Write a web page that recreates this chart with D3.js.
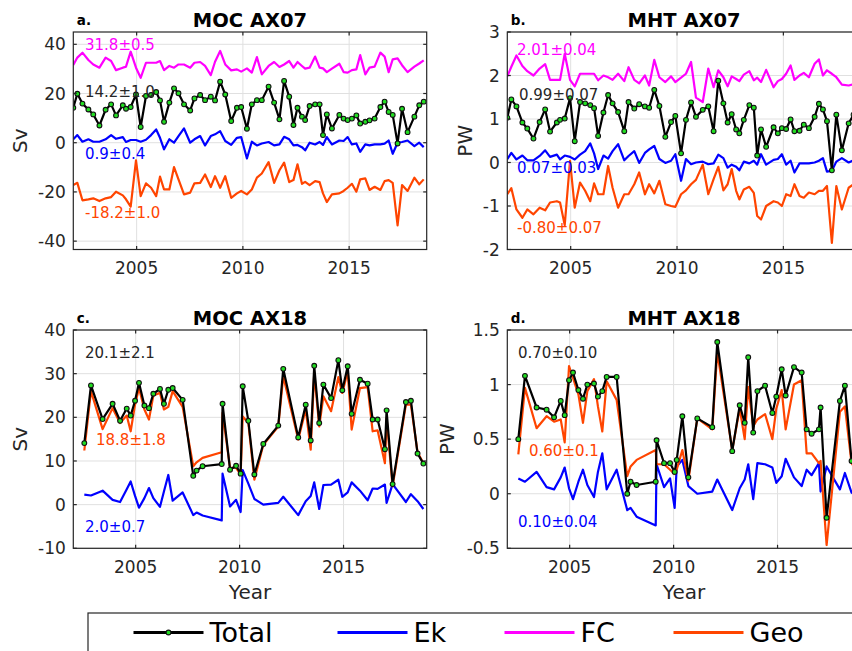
<!DOCTYPE html>
<html>
<head>
<meta charset="utf-8">
<script src="https://cdn.jsdelivr.net/npm/d3@7"></script>
<style>
  html, body { margin: 0; padding: 0; background: #fff; }
  svg { display: block; font-family: "DejaVu Sans", sans-serif; }
</style>
</head>
<body>
<script>
// ---------- AX07 transect (quarterly sampling) ----------
const yearsAX07 = [
  2002.02, 2002.21, 2002.45, 2002.73, 2002.96, 2003.25, 2003.54, 2003.80, 2004.03, 2004.35,
  2004.50, 2004.72, 2004.97, 2005.19, 2005.44, 2005.68, 2005.92, 2006.10, 2006.29, 2006.54,
  2006.76, 2006.97, 2007.23, 2007.52, 2007.72, 2007.99, 2008.22, 2008.49, 2008.69, 2008.93,
  2009.17, 2009.45, 2009.72, 2009.92, 2010.19, 2010.42, 2010.66, 2010.89, 2011.21, 2011.47,
  2011.72, 2011.94, 2012.18, 2012.38, 2012.57, 2012.78, 2012.93, 2013.14, 2013.40, 2013.61,
  2013.77, 2013.95, 2014.19, 2014.54, 2014.74, 2014.93, 2015.13, 2015.34, 2015.52, 2015.76,
  2015.96, 2016.20, 2016.47, 2016.67, 2016.86, 2017.05, 2017.28, 2017.49, 2017.75, 2018.07,
  2018.30, 2018.51
];
const mocAX07Total = [
  14.2, 19.9, 15.9, 13.5, 11.5, 7.0, 13.4, 15.6, 11.1, 15.2,
  13.8, 14.5, 19.6, 6.4, 19.0, 19.4, 20.6, 17.2, 8.5, 16.3,
  22.1, 20.1, 15.6, 13.1, 18.0, 19.4, 17.3, 18.7, 17.2, 24.8,
  19.6, 8.8, 14.2, 14.5, 5.7, 15.6, 17.3, 17.3, 22.8, 16.3,
  9.5, 25.1, 18.7, 7.2, 14.2, 10.6, 9.2, 14.9, 15.6, 15.6,
  3.1, 11.5, 5.8, 11.3, 9.8, 9.2, 9.8, 11.1, 7.8, 8.5,
  9.1, 9.8, 14.5, 16.7, 12.5, 11.3, -0.3, 13.8, 4.3, 10.6,
  15.2, 16.7
];
const mocAX07Ek = [
  1.4, 3.1, 0.4, 1.4, 0.4, 0.4, 1.4, 3.1, 1.6, 2.3,
  0.3, 1.1, 1.1, 0.4, 1.2, 3.1, 5.4, 2.0, -2.7, 1.4,
  0.0, 2.7, 5.8, 0.0, 1.4, 2.7, -1.1, 2.7, 3.4, 4.7,
  0.7, -0.9, 2.0, 2.3, -6.4, 0.4, -1.1, -0.3, 0.3, -1.1,
  -0.7, 2.4, 1.4, -1.1, -0.9, -1.8, -3.1, 0.0, -0.7, 0.3,
  -0.9, 2.3, -0.7, 0.9, 0.7, 2.3, -0.7, -0.3, -3.7, -0.7,
  -1.1, -0.7, -0.7, -0.4, 0.9, -4.5, 0.0, 0.3, 0.9, -1.4,
  0.0, -1.8
];
const mocAX07FC = [
  31.6, 34.6, 36.6, 33.6, 31.8, 30.5, 34.6, 33.2, 29.5, 30.5,
  30.9, 37.0, 30.5, 26.4, 32.5, 32.5, 32.5, 33.2, 29.5, 31.2,
  30.5, 31.8, 31.8, 30.5, 32.5, 32.8, 31.2, 27.5, 32.9, 37.3,
  31.8, 29.4, 29.8, 28.9, 30.2, 28.5, 34.8, 27.8, 31.2, 32.8,
  30.8, 31.8, 33.2, 30.5, 32.8, 31.2, 30.1, 30.5, 35.0, 30.5,
  30.2, 28.7, 30.1, 32.1, 28.7, 28.5, 29.5, 29.8, 35.6, 27.8,
  30.5, 30.9, 36.6, 35.0, 28.7, 33.9, 34.3, 31.5, 28.7, 30.9,
  32.2, 33.5
];
const mocAX07Geo = [
  -17.2, -16.3, -23.4, -23.0, -22.6, -23.7, -22.6, -22.1, -19.9, -21.4,
  -23.0, -26.0, -7.2, -21.7, -16.5, -18.3, -21.7, -13.8, -19.0, -19.0,
  -9.9, -14.9, -21.0, -20.3, -16.5, -16.3, -12.9, -18.0, -13.6, -18.3,
  -13.6, -22.4, -20.6, -19.6, -21.0, -19.0, -14.2, -12.5, -7.9, -16.3,
  -11.2, -8.1, -16.0, -15.2, -8.8, -16.7, -15.9, -17.2, -15.6, -16.0,
  -20.6, -24.1, -21.0, -20.6, -19.6, -18.3, -16.7, -19.9, -14.9, -14.5,
  -19.2, -17.9, -19.2, -15.6, -15.2, -16.3, -33.6, -17.2, -19.6, -14.2,
  -16.9, -14.9
];
const mhtAX07Total = [
  1.03, 1.45, 1.29, 0.92, 0.78, 0.55, 0.93, 1.22, 0.71, 0.92,
  0.98, 1.01, 1.48, 0.49, 1.39, 1.36, 1.32, 1.25, 0.61, 1.15,
  1.55, 1.36, 1.16, 0.72, 1.39, 1.24, 1.34, 1.29, 1.26, 1.67,
  1.30, 0.59, 0.93, 1.07, 0.21, 0.98, 1.38, 1.05, 1.21, 1.29,
  0.72, 1.88, 1.36, 0.92, 1.11, 0.76, 0.67, 0.98, 1.32, 1.26,
  0.16, 0.76, 0.36, 0.81, 0.67, 0.79, 0.77, 0.99, 0.72, 0.73,
  0.87, 0.79, 1.05, 1.35, 1.22, 0.95, -0.18, 1.10, 0.28, 0.90,
  1.10, 1.20
];
const mhtAX07Ek = [
  0.08, 0.22, 0.07, 0.16, 0.05, 0.05, 0.15, 0.28, 0.13, 0.18,
  0.07, 0.16, 0.13, 0.07, 0.18, 0.26, 0.44, 0.21, -0.15, 0.16,
  0.09, 0.26, 0.42, 0.05, 0.15, 0.26, -0.01, 0.22, 0.30, 0.38,
  0.08, -0.01, 0.04, 0.19, -0.42, 0.08, -0.04, 0.00, 0.02, -0.04,
  -0.02, 0.18, 0.10, -0.12, -0.05, -0.10, -0.18, 0.02, -0.02, 0.04,
  -0.05, 0.19, -0.05, 0.06, 0.08, 0.19, -0.05, 0.04, -0.23, -0.02,
  -0.02, -0.02, 0.00, 0.04, 0.10, -0.21, -0.19, 0.02, 0.10, 0.00,
  0.05, -0.05
];
const mhtAX07FC = [
  1.98, 2.20, 2.46, 2.22, 2.10, 2.00, 2.16, 2.26, 1.90, 1.90,
  1.90, 2.50, 1.90, 1.75, 2.04, 2.04, 2.04, 2.04, 1.89, 2.00,
  1.96, 1.90, 2.04, 1.87, 2.19, 1.90, 1.82, 2.00, 1.77, 2.36,
  1.96, 1.85, 1.98, 1.85, 1.95, 2.04, 2.31, 1.49, 1.39, 2.16,
  1.73, 2.12, 1.96, 1.75, 1.98, 1.92, 1.87, 2.02, 2.10, 1.89,
  1.95, 1.85, 2.13, 1.73, 1.87, 1.92, 2.04, 2.23, 1.90, 2.00,
  2.06, 1.96, 2.27, 2.37, 2.00, 2.12, 2.04, 1.96, 1.79, 1.77,
  1.80, 1.85
];
const mhtAX07Geo = [
  -0.73, -0.59, -1.08, -1.27, -1.08, -1.19, -1.04, -1.10, -0.92, -0.89,
  -0.92, -1.44, 0.04, -1.04, -0.46, -0.65, -0.89, -0.48, -0.73, -0.73,
  -0.08, -0.58, -1.04, -0.73, -0.73, -0.50, -0.23, -0.73, -0.50, -0.71,
  -0.42, -0.96, -1.00, -1.02, -0.73, -0.64, -0.50, -0.40, -0.05, -0.73,
  -0.38, -0.10, -0.64, -0.50, -0.15, -0.65, -0.85, -0.62, -0.56, -0.70,
  -1.23, -1.31, -1.00, -0.89, -0.92, -1.00, -0.73, -0.77, -0.50, -0.77,
  -0.81, -0.69, -0.73, -0.65, -0.65, -0.54, -1.85, -0.54, -1.08, -0.58,
  -0.50, -0.60
];

// ---------- AX18 transect (irregular sampling) ----------
const yearsAX18 = [
  2002.53, 2002.85, 2003.41, 2003.89, 2004.25, 2004.57, 2004.76, 2004.97, 2005.16, 2005.42,
  2005.64, 2005.85, 2006.17, 2006.36, 2006.57, 2006.78, 2007.26, 2007.77, 2007.93, 2008.22,
  2009.14, 2009.18, 2009.54, 2009.83, 2010.05, 2010.15, 2010.42, 2010.71, 2011.14, 2011.86,
  2012.10, 2012.82, 2013.18, 2013.42, 2013.59, 2013.83, 2014.03, 2014.40, 2014.75, 2014.94,
  2015.20, 2015.39, 2015.79, 2016.16, 2016.40, 2016.64, 2016.99, 2017.07, 2017.36, 2018.00,
  2018.24, 2018.56, 2018.84
];
const mocAX18Total = [
  14.1, 27.3, 19.6, 23.1, 19.2, 22.0, 20.4, 23.8, 27.9, 22.7,
  22.1, 25.4, 26.5, 23.1, 26.3, 26.7, 24.0, 6.6, 7.8, 8.8,
  9.3, 23.1, 8.0, 8.9, 7.1, 27.1, 19.2, 6.9, 13.9, 18.1,
  31.1, 15.4, 22.9, 14.7, 31.8, 18.7, 27.5, 24.4, 33.1, 26.2,
  31.7, 20.8, 28.6, 27.7, 19.5, 19.5, 12.7, 21.6, 4.7, 23.5,
  23.8, 11.7, 9.4
];
const mocAX18Ek = [
  2.3, 2.1, 3.2, 1.1, 0.6, 3.5, 5.3, 2.0, -0.7, 1.5,
  3.8, 1.5, -0.5, 3.0, 6.8, 0.9, 2.8, -2.4, -1.8, -2.5,
  -3.6, 7.1, -0.4, 1.1, -1.7, 7.9, 4.8, 1.3, 0.0, 0.4,
  1.8, -2.4, 0.8, 2.0, 5.1, -1.0, 4.5, 4.6, 5.7, 1.8,
  2.8, 5.1, 3.2, 1.0, 3.7, 3.6, 4.6, 0.4, 4.7, 0.6,
  2.4, 0.8, -1.0
];
const mocAX18Geo = [
  12.4, 26.0, 17.3, 22.1, 18.7, 20.4, 16.8, 22.9, 26.7, 21.8,
  19.5, 25.0, 25.6, 21.8, 22.4, 26.0, 22.4, 8.8, 9.7, 10.7,
  12.0, 21.0, 8.4, 8.4, 6.9, 20.2, 18.7, 5.7, 13.7, 17.9,
  29.4, 14.9, 21.8, 12.6, 30.2, 17.9, 24.8, 21.4, 29.2, 25.6,
  30.5, 17.2, 26.7, 26.9, 16.8, 17.0, 9.5, 19.8, 4.2, 22.9,
  22.9, 12.0, 9.5
];
const mhtAX18Total = [
  0.50, 1.08, 0.79, 0.77, 0.70, 0.85, 0.72, 1.04, 1.11, 0.95,
  0.87, 1.00, 1.01, 0.89, 0.94, 1.07, 1.07, 0.00, 0.11, 0.08,
  0.11, 0.49, 0.28, 0.28, 0.20, 0.31, 0.71, 0.15, 0.69, 0.61,
  1.39, 0.39, 0.81, 0.65, 1.25, 0.56, 0.94, 0.99, 0.74, 0.89,
  1.14, 0.90, 1.16, 1.11, 0.59, 0.55, 0.59, 0.79, -0.22, 0.85,
  0.99, 0.30, 0.25
];
const mhtAX18Ek = [
  0.14, 0.11, 0.20, 0.06, 0.04, 0.15, 0.24, 0.05, -0.05, 0.11,
  0.22, 0.08, -0.03, 0.20, 0.37, 0.04, 0.22, -0.15, -0.13, -0.21,
  -0.29, 0.27, 0.06, 0.14, -0.13, 0.25, 0.31, 0.07, 0.00, 0.02,
  0.13, -0.15, 0.05, 0.13, 0.27, -0.05, 0.28, 0.27, 0.24, 0.10,
  0.16, 0.32, 0.15, 0.07, 0.22, 0.17, 0.28, 0.02, 0.25, 0.04,
  0.19, 0.01, -0.02
];
const mhtAX18Geo = [
  0.36, 0.97, 0.60, 0.71, 0.66, 0.68, 0.47, 1.17, 1.06, 0.91,
  0.65, 0.94, 1.05, 0.80, 0.57, 1.03, 0.86, 0.16, 0.25, 0.31,
  0.40, 0.27, 0.27, 0.22, 0.18, 0.22, 0.40, 0.12, 0.69, 0.59,
  1.30, 0.40, 0.78, 0.50, 0.98, 0.62, 0.68, 0.73, 0.50, 0.78,
  0.95, 0.59, 1.00, 1.04, 0.37, 0.37, 0.28, 0.30, -0.47, 0.75,
  0.80, 0.28, 0.20
];

// ---------- ticks, labels, legend ----------
const yearTicks = [2005, 2010, 2015];
const yTicksMocAX07 = [-40, -20, 0, 20, 40];
const yTicksMhtAX07 = [-2, -1, 0, 1, 2, 3];
const yTicksMocAX18 = [-10, 0, 10, 20, 30, 40];
const yTicksMhtAX18 = [-0.5, 0, 0.5, 1, 1.5];
const seriesNames = ["Total", "Ek", "FC", "Geo"];
const statsMocAX07 = ["14.2±1.0", "0.9±0.4", "31.8±0.5", "-18.2±1.0"];
const statsMhtAX07 = ["0.99±0.07", "0.07±0.03", "2.01±0.04", "-0.80±0.07"];
const statsMocAX18 = ["20.1±2.1", "2.0±0.7", null, "18.8±1.8"];
const statsMhtAX18 = ["0.70±0.10", "0.10±0.04", null, "0.60±0.1"];

const colors = { Total: "#000000", Ek: "#0000ff", FC: "#ff00ff", Geo: "#ff4500" };
const axisGray = "#262626";

const W = 852, H = 651;
const svg = d3.select("body").append("svg")
  .attr("width", W).attr("height", H)
  .attr("viewBox", `0 0 ${W} ${H}`);
svg.append("rect").attr("width", W).attr("height", H).attr("fill", "#fff");

// Panel layout: box in pixels, plus placement of the stats annotations (relative to box)
const panels = [
  { tag: "a.", title: "MOC AX07", yLabel: "Sv", yLabelX: 20,
    left: 73.3, top: 32, width: 353.4, height: 217.5,
    xDomain: [2002.02, 2018.65], yDomain: [-43.4, 45], yTicks: yTicksMocAX07,
    years: yearsAX07,
    values: { Total: mocAX07Total, Ek: mocAX07Ek, FC: mocAX07FC, Geo: mocAX07Geo },
    stats: statsMocAX07,
    statPos: { Total: [11.7, 65], Ek: [11.7, 127], FC: [11.7, 18], Geo: [11.7, 186] },
    xLabel: false },
  { tag: "b.", title: "MHT AX07", yLabel: "PW", yLabelX: 465,
    left: 507.3, top: 32, width: 353.7, height: 217.5,
    xDomain: [2002.02, 2018.65], yDomain: [-2, 3], yTicks: yTicksMhtAX07,
    years: yearsAX07,
    values: { Total: mhtAX07Total, Ek: mhtAX07Ek, FC: mhtAX07FC, Geo: mhtAX07Geo },
    stats: statsMhtAX07,
    statPos: { Total: [11.7, 68], Ek: [9.7, 141], FC: [9.7, 23], Geo: [9.7, 201] },
    xLabel: false },
  { tag: "c.", title: "MOC AX18", yLabel: "Sv", yLabelX: 20,
    left: 73.3, top: 330, width: 353.4, height: 218.3,
    xDomain: [2002, 2019], yDomain: [-10, 40], yTicks: yTicksMocAX18,
    years: yearsAX18,
    values: { Total: mocAX18Total, Ek: mocAX18Ek, Geo: mocAX18Geo },
    stats: statsMocAX18,
    statPos: { Total: [11.7, 28], Ek: [11.7, 202], Geo: [22.7, 115] },
    xLabel: true },
  { tag: "d.", title: "MHT AX18", yLabel: "PW", yLabelX: 447,
    left: 507.3, top: 330, width: 353.4, height: 218.3,
    xDomain: [2002, 2019], yDomain: [-0.5, 1.5], yTicks: yTicksMhtAX18,
    years: yearsAX18,
    values: { Total: mhtAX18Total, Ek: mhtAX18Ek, Geo: mhtAX18Geo },
    stats: statsMhtAX18,
    statPos: { Total: [10.7, 28], Ek: [10.7, 197], Geo: [21.7, 126] },
    xLabel: true }
];

const defs = svg.append("defs");

panels.forEach((p, i) => {
  const x = d3.scaleLinear().domain(p.xDomain).range([p.left, p.left + p.width]);
  const y = d3.scaleLinear().domain(p.yDomain).range([p.top + p.height, p.top]);
  const g = svg.append("g");
  const clipId = "clip" + i;
  defs.append("clipPath").attr("id", clipId)
    .append("rect").attr("x", p.left).attr("y", p.top)
    .attr("width", p.width).attr("height", p.height);

  // background grid
  const grid = g.append("g").attr("stroke", "#e0e0e0").attr("stroke-width", 1);
  grid.selectAll("line.gx").data(yearTicks).join("line")
    .attr("x1", d => x(d)).attr("x2", d => x(d))
    .attr("y1", p.top).attr("y2", p.top + p.height);
  grid.selectAll("line.gy").data(p.yTicks).join("line")
    .attr("y1", d => y(d)).attr("y2", d => y(d))
    .attr("x1", p.left).attr("x2", p.left + p.width);

  // series lines
  const plot = g.append("g").attr("clip-path", `url(#${clipId})`);
  const line = d3.line().x(d => x(d[0])).y(d => y(d[1]));
  ["Ek", "FC", "Geo", "Total"].forEach(name => {
    const vals = p.values[name];
    if (!vals) return;
    const pts = p.years.map((yr, k) => [yr, vals[k]]);
    plot.append("path").datum(pts)
      .attr("d", line)
      .attr("fill", "none")
      .attr("stroke", colors[name])
      .attr("stroke-width", 2.2)
      .attr("stroke-linejoin", "round");
    if (name === "Total") {
      plot.selectAll("circle.tot").data(pts).join("circle")
        .attr("cx", d => x(d[0])).attr("cy", d => y(d[1]))
        .attr("r", 2.4)
        .attr("fill", "#22dd22")
        .attr("stroke", "#111")
        .attr("stroke-width", 1.1);
    }
  });

  // stats annotations
  seriesNames.forEach((name, k) => {
    const txt = p.stats[k];
    if (!txt) return;
    const pos = p.statPos[name];
    g.append("text")
      .attr("x", p.left + pos[0]).attr("y", p.top + pos[1])
      .attr("font-size", 15)
      .attr("fill", name === "Total" ? "#262626" : colors[name])
      .text(txt);
  });

  // axes box with inward ticks on all sides
  const ax = g.append("g").attr("stroke", axisGray).attr("stroke-width", 1.2);
  ax.append("rect").attr("x", p.left).attr("y", p.top)
    .attr("width", p.width).attr("height", p.height).attr("fill", "none");
  const tl = 3.5;
  yearTicks.forEach(t => {
    ax.append("line").attr("x1", x(t)).attr("x2", x(t))
      .attr("y1", p.top + p.height).attr("y2", p.top + p.height - tl);
    ax.append("line").attr("x1", x(t)).attr("x2", x(t))
      .attr("y1", p.top).attr("y2", p.top + tl);
  });
  p.yTicks.forEach(t => {
    ax.append("line").attr("y1", y(t)).attr("y2", y(t))
      .attr("x1", p.left).attr("x2", p.left + tl);
    ax.append("line").attr("y1", y(t)).attr("y2", y(t))
      .attr("x1", p.left + p.width).attr("x2", p.left + p.width - tl);
  });

  // tick labels
  g.selectAll("text.xt").data(yearTicks).join("text")
    .attr("x", d => x(d)).attr("y", p.top + p.height + 24.5)
    .attr("text-anchor", "middle").attr("font-size", 17).attr("fill", axisGray)
    .text(d => d);
  g.selectAll("text.yt").data(p.yTicks).join("text")
    .attr("x", p.left - 7.5).attr("y", d => y(d)).attr("dy", "0.36em")
    .attr("text-anchor", "end").attr("font-size", 17).attr("fill", axisGray)
    .text(d => String(d));

  // titles and labels
  g.append("text").attr("x", p.left + p.width / 2).attr("y", p.top - 5.5)
    .attr("text-anchor", "middle").attr("font-size", 19.5).attr("font-weight", "bold")
    .attr("fill", "#000").text(p.title);
  g.append("text").attr("x", p.left + 3.5).attr("y", p.top - 7.5)
    .attr("font-size", 13.5).attr("font-weight", "bold")
    .attr("fill", "#000").text(p.tag);
  const cy = p.top + p.height / 2;
  g.append("text")
    .attr("transform", `translate(${p.yLabelX},${cy}) rotate(-90)`)
    .attr("text-anchor", "middle").attr("dy", "0.36em")
    .attr("font-size", 20).attr("fill", axisGray).text(p.yLabel);
  if (p.xLabel) {
    g.append("text").attr("x", p.left + p.width / 2).attr("y", p.top + p.height + 51)
      .attr("text-anchor", "middle").attr("font-size", 20).attr("fill", axisGray)
      .text("Year");
  }
});

// ---------- legend ----------
const leg = svg.append("g");
leg.append("rect").attr("x", 88).attr("y", 613).attr("width", 820).attr("height", 80)
  .attr("fill", "#fff").attr("stroke", axisGray).attr("stroke-width", 1.2);
const legendX = [133.5, 337.5, 504.5, 673.5];
const legY = 632.5;
seriesNames.forEach((name, k) => {
  const x0 = legendX[k];
  leg.append("line").attr("x1", x0).attr("x2", x0 + 70)
    .attr("y1", legY).attr("y2", legY)
    .attr("stroke", colors[name]).attr("stroke-width", 3);
  if (name === "Total") {
    leg.append("circle").attr("cx", x0 + 35).attr("cy", legY).attr("r", 2.4)
      .attr("fill", "#22dd22").attr("stroke", "#111").attr("stroke-width", 1.1);
  }
  leg.append("text").attr("x", x0 + 76).attr("y", legY).attr("dy", "0.36em")
    .attr("font-size", 27).attr("fill", "#000").text(name);
});
</script>
</body>
</html>
